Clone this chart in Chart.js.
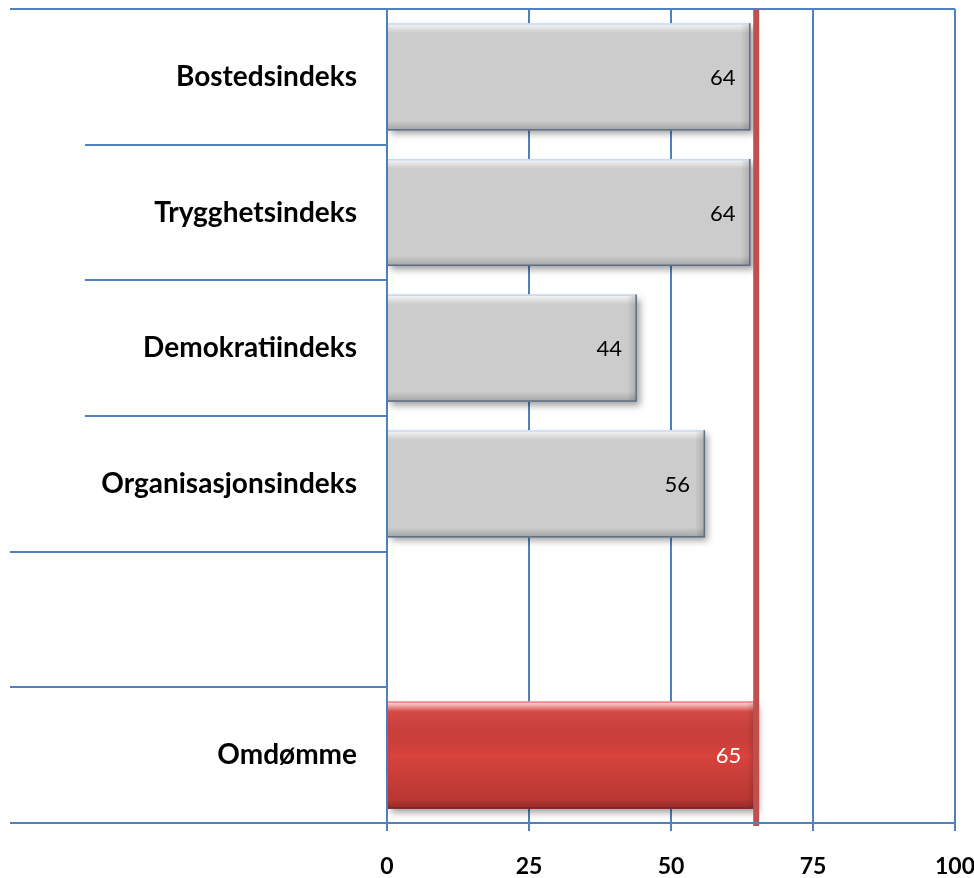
<!DOCTYPE html>
<html>
<head>
<meta charset="utf-8">
<script src="https://cdn.jsdelivr.net/npm/chart.js@4/dist/chart.umd.min.js"></script>
<style>
html,body{margin:0;padding:0;background:#ffffff;}
#wrap{width:974px;height:878px;}
</style>
</head>
<body>
<div id="wrap"><canvas id="c" width="974" height="878"></canvas></div>
<script>
// ---- data ----
const categories = ['Bostedsindeks', 'Trygghetsindeks', 'Demokratiindeks', 'Organisasjonsindeks', '', 'Omdømme'];
const values = [64, 64, 44, 56, null, 65];
const referenceValue = 65;
const xTickValues = [0, 25, 50, 75, 100];

// ---- styles ----
const GRID_BLUE = '#4F81BD';
const REF_RED = '#C0504D';
const barColors = ['#cccccc', '#cccccc', '#cccccc', '#cccccc', '#cccccc', '#d9433d'];
const labelColors = ['#000000', '#000000', '#000000', '#000000', '#000000', '#ffffff'];
const separatorStartX = [10, 85, 85, 85, 10, 10, 10];

const bevelPlugin = {
  id: 'bevel',
  beforeDatasetDraw(chart, args) {
    const ctx = chart.ctx;
    ctx.save();
    ctx.shadowColor = 'rgba(0,0,0,0.38)';
    ctx.shadowBlur = 7;
    ctx.shadowOffsetX = 3;
    ctx.shadowOffsetY = 4;
  },
  afterDatasetDraw(chart, args) {
    const ctx = chart.ctx;
    ctx.restore();
    ctx.save();
    args.meta.data.forEach((el, i) => {
      if (values[i] == null) return;
      const p = el.getProps(['x', 'y', 'base', 'height'], true);
      const left = Math.min(p.base, p.x), right = Math.max(p.base, p.x);
      const top = p.y - p.height / 2, bottom = p.y + p.height / 2;
      const w = right - left, h = bottom - top;
      const red = i === 5;
      let g;
      if (red) {
        g = ctx.createLinearGradient(0, top, 0, bottom);
        g.addColorStop(0, 'rgba(255,110,110,0.35)');
        g.addColorStop(0.5, 'rgba(0,0,0,0)');
        g.addColorStop(1, 'rgba(60,0,0,0.22)');
        ctx.fillStyle = g;
        ctx.fillRect(left, top, w, h);
      }
      // top highlight
      g = ctx.createLinearGradient(0, top, 0, top + 10);
      g.addColorStop(0, 'rgba(255,255,255,0.85)');
      g.addColorStop(1, 'rgba(255,255,255,0)');
      ctx.fillStyle = g;
      ctx.fillRect(left, top, w, 10);
      // bottom shade
      g = ctx.createLinearGradient(0, bottom - 10, 0, bottom);
      g.addColorStop(0, 'rgba(0,0,0,0)');
      g.addColorStop(1, 'rgba(0,0,0,0.2)');
      ctx.fillStyle = g;
      ctx.fillRect(left, bottom - 10, w, 10);
      // right shade
      g = ctx.createLinearGradient(right - 10, 0, right, 0);
      g.addColorStop(0, 'rgba(0,0,0,0)');
      g.addColorStop(1, 'rgba(0,0,0,0.16)');
      ctx.fillStyle = g;
      ctx.fillRect(right - 10, top, 10, h);
      // edges
      ctx.lineWidth = 1.5;
      ctx.strokeStyle = red ? '#f08a8a' : '#c6d9f1';
      ctx.beginPath(); ctx.moveTo(left, top + 0.75); ctx.lineTo(right, top + 0.75); ctx.stroke();
      ctx.strokeStyle = red ? '#7a2a28' : '#5f6f84';
      ctx.beginPath(); ctx.moveTo(right - 0.75, top); ctx.lineTo(right - 0.75, bottom - 0.75); ctx.lineTo(left, bottom - 0.75); ctx.stroke();
    });
    ctx.restore();
  }
};

const separatorPlugin = {
  id: 'separators',
  afterDraw(chart) {
    const ys = chart.scales.y, xs = chart.scales.x, ca = chart.chartArea, ctx = chart.ctx;
    ctx.save();
    ctx.strokeStyle = GRID_BLUE;
    ctx.lineWidth = 2;
    for (let i = 0; i <= categories.length; i++) {
      const y = Math.round(ys.getPixelForValue(i - 0.5));
      const endX = (i === 0 || i === categories.length) ? ca.right : ca.left;
      ctx.beginPath();
      ctx.moveTo(separatorStartX[i], y);
      ctx.lineTo(endX, y);
      ctx.stroke();
    }
    ctx.restore();
  }
};

const refLinePlugin = {
  id: 'refLine',
  afterDatasetsDraw(chart) {
    const xs = chart.scales.x, ca = chart.chartArea, ctx = chart.ctx;
    const x = xs.getPixelForValue(referenceValue);
    ctx.save();
    ctx.strokeStyle = REF_RED;
    ctx.lineWidth = 6;
    ctx.beginPath();
    ctx.moveTo(x, ca.top);
    ctx.lineTo(x, ca.bottom + 3);
    ctx.stroke();
    ctx.restore();
  }
};

const valueLabelPlugin = {
  id: 'valueLabels',
  afterDatasetsDraw(chart) {
    const ctx = chart.ctx;
    const meta = chart.getDatasetMeta(0);
    ctx.save();
    ctx.font = '22px Lato';
    ctx.textAlign = 'right';
    ctx.textBaseline = 'middle';
    meta.data.forEach((el, i) => {
      if (values[i] == null) return;
      ctx.fillStyle = labelColors[i];
      ctx.fillText(String(values[i]), el.x - 15, el.y + 1);
    });
    ctx.restore();
  }
};

new Chart(document.getElementById('c'), {
  type: 'bar',
  data: {
    labels: categories,
    datasets: [
      {
        data: values,
        backgroundColor: barColors,
        borderWidth: 0,
        barPercentage: 0.79,
        categoryPercentage: 1
      }
    ]
  },
  options: {
    indexAxis: 'y',
    responsive: false,
    animation: false,
    layout: { padding: { top: 9, right: 19, left: 0, bottom: 0 } },
    plugins: { legend: { display: false }, tooltip: { enabled: false } },
    scales: {
      x: {
        type: 'linear',
        position: 'bottom',
        min: 0,
        max: 100,
        afterBuildTicks(scale) { scale.ticks = xTickValues.map(v => ({ value: v })); },
        afterFit(scale) { scale.height = 55; scale.paddingLeft = 0; scale.paddingRight = 0; },
        grid: { color: GRID_BLUE, lineWidth: 2, tickLength: 8, tickColor: GRID_BLUE, drawOnChartArea: true },
        border: { display: true, color: GRID_BLUE, width: 2 },
        ticks: { color: '#000000', font: { family: 'Lato', size: 23, weight: 'bold' }, padding: 22, maxRotation: 0 }
      },
      y: {
        type: 'category',
        position: 'left',
        offset: true,
        afterFit(scale) { scale.width = 387; scale.paddingTop = 0; scale.paddingBottom = 0; },
        grid: { display: false, drawTicks: false },
        border: { display: true, color: GRID_BLUE, width: 2 },
        ticks: { color: '#000000', font: { family: 'Lato', size: 28, weight: 'bold' }, padding: 30, autoSkip: false }
      }
    }
  },
  plugins: [bevelPlugin, refLinePlugin, separatorPlugin, valueLabelPlugin]
});
</script>
</body>
</html>
